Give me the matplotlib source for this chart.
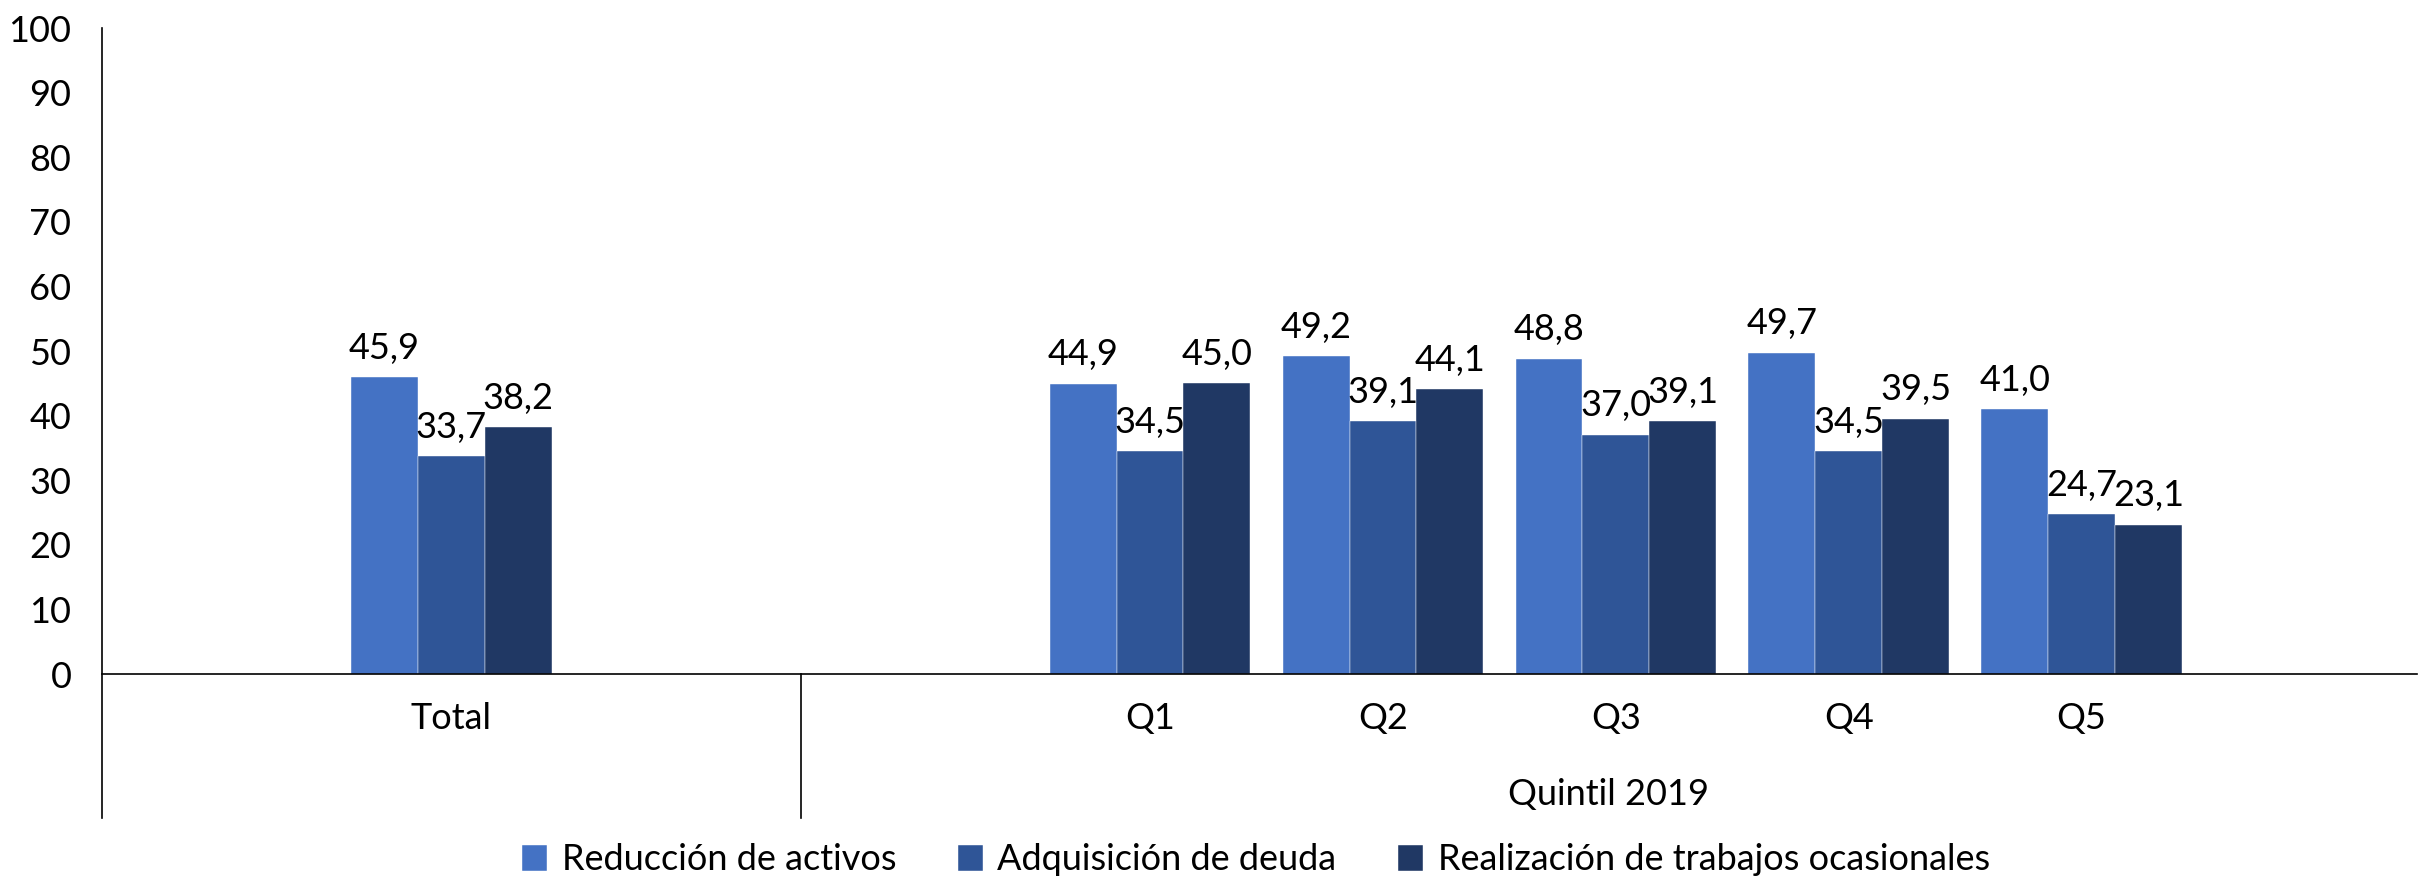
import matplotlib
matplotlib.use("Agg")
import matplotlib.pyplot as plt
import matplotlib.transforms as mtransforms
import numpy as np

plt.rcParams['font.family'] = ['Lato', 'DejaVu Sans']

categories = ["", "Total", "", "", "Q1", "Q2", "Q3", "Q4", "Q5", ""]
# values per series (None for empty slots)
reduccion = [None, 45.9, None, None, 44.9, 49.2, 48.8, 49.7, 41.0, None]
deuda = [None, 33.7, None, None, 34.5, 39.1, 37.0, 34.5, 24.7, None]
trabajos = [None, 38.2, None, None, 45.0, 44.1, 39.1, 39.5, 23.1, None]
series_names = ["Reducción de activos", "Adquisición de deuda", "Realización de trabajos ocasionales"]
colors = ["#4472C4", "#2F5597", "#203864"]
group_label = "Quintil 2019"
yticks = list(range(0, 101, 10))

xpos = np.arange(len(categories))

fig = plt.figure(figsize=(24.2, 8.77), dpi=100)
ax = fig.add_axes([102/2420, 1-674/877, (2417-102)/2420, (674-28)/877])

w = 0.287
fs = 26
all_series = [reduccion, deuda, trabajos]
for si, (vals, col, name) in enumerate(zip(all_series, colors, series_names)):
    xs, hs = [], []
    for i, v in enumerate(vals):
        if v is not None:
            xs.append(xpos[i] + (si - 1) * w)
            hs.append(v)
    ax.bar(xs, hs, width=w, color=col, label=name, edgecolor='white', linewidth=0.3)
    for x, h in zip(xs, hs):
        ax.annotate(f"{h:.1f}".replace('.', ','), (x, h), xytext=(0, 9),
                    textcoords='offset points', ha='center', va='bottom', fontsize=fs)

ax.set_xlim(-0.5, 9.44)
ax.set_ylim(0, 100)
ax.set_yticks(yticks)
ax.tick_params(axis='y', length=0, labelsize=fs, pad=22)
ax.tick_params(axis='x', length=0, labelsize=fs, pad=20)
tick_pos = [xpos[i] for i, c in enumerate(categories) if c]
tick_lab = [c for c in categories if c]
ax.set_xticks(tick_pos)
ax.set_xticklabels(tick_lab)

for s in ['top', 'right', 'left']:
    ax.spines[s].set_visible(False)
ax.spines['bottom'].set_linewidth(1.2)

# left axis line extending below the plot
ext = -(818-674)/(674-28)
ax.plot([0, 0], [ext, 1], transform=ax.transAxes, color='black', lw=1.2, clip_on=False)
# separator between groups
trans = mtransforms.blended_transform_factory(ax.transData, ax.transAxes)
ax.plot([2.5, 2.5], [ext, 0], transform=trans, color='black', lw=1.2, clip_on=False)

# group label
ax.text((2.5 + 9.44) / 2, 1-795/877, group_label,
        transform=mtransforms.blended_transform_factory(ax.transData, fig.transFigure),
        ha='center', va='center', fontsize=fs)

fig.legend(loc='center', bbox_to_anchor=(0.519, 1-860/877), ncol=3, frameon=False,
           fontsize=26, handlelength=0.7, handleheight=0.7, columnspacing=1.7, handletextpad=0.4)

fig.savefig("out.png", dpi=100, facecolor='white')
